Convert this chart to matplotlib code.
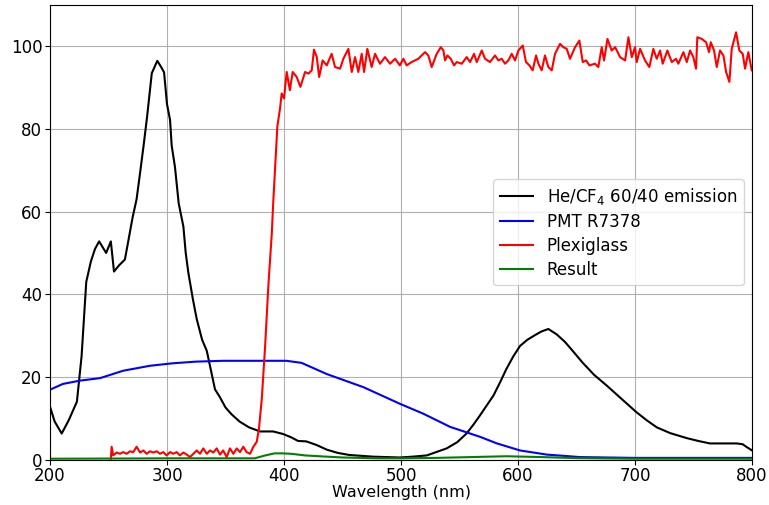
import numpy as np
from matplotlib import pyplot as plt

# --- He/CF4 60/40 emission ---
wl_em = [200, 204, 210, 216, 223, 227, 231, 235, 238.5, 242, 248, 252, 254.7, 259, 264,
         267, 270.6, 274, 277, 280, 283, 287, 291.7, 295, 297.5, 300, 302.6, 304, 306.8,
         310, 314, 316, 318.2, 322, 325.4, 330, 334, 338, 341, 345, 350, 355, 362, 370,
         379.5, 390.7, 399, 406, 412, 419, 428, 436.5, 446, 456, 476, 499, 510, 522, 530,
         539, 548, 556, 562, 567.5, 573, 579, 585, 590, 596, 601.7, 608, 615, 620, 625.9,
         633, 640, 647, 655, 665, 675.8, 688, 701, 710, 718.5, 730, 744, 754, 764, 775,
         787, 792, 795, 800]
emission = [12.8, 9.2, 6.3, 9.5, 14, 25, 43, 48, 51, 52.8, 50, 52.8, 45.5, 47, 48.4,
            53, 58.6, 63, 69.4, 76, 83, 93.5, 96.5, 95, 93.7, 86, 82.2, 76, 70.8,
            62, 56.4, 50, 45.3, 39, 34, 29, 26.3, 21, 17, 15.2, 12.6, 11, 9.2, 7.8,
            6.8, 6.8, 6.2, 5.4, 4.5, 4.4, 3.5, 2.4, 1.6, 1.1, 0.7, 0.5, 0.7, 1.0, 1.8,
            2.7, 4.2, 6.3, 8.5, 10.7, 13, 15.5, 18.9, 21.9, 25, 27.5, 29, 30.2, 31, 31.6,
            30.3, 28.5, 26.2, 23.5, 20.5, 17.9, 14.8, 11.5, 9.5, 7.8, 6.4, 5.2, 4.5, 3.9, 3.9,
            3.9, 3.7, 3.1, 2.2]

# --- PMT R7378 ---
wl_pmt = [200, 211, 225.6, 242.7, 262.6, 285.5, 305, 325, 348, 375, 402, 415, 436.5,
          468, 499, 519, 542, 567.5, 582, 601.7, 624.5, 653, 700, 800]
pmt = [16.9, 18.3, 19.1, 19.7, 21.5, 22.7, 23.3, 23.7, 23.9, 23.9, 23.9, 23.4, 20.7,
       17.5, 13.5, 11.1, 7.9, 5.5, 3.9, 2.2, 1.2, 0.6, 0.4, 0.4]

# --- Plexiglass ---
wl_plexi = [252, 252.7, 254, 257, 259.8, 262.6, 265.5, 268.4, 271.2, 274, 277, 279.8,
            282.6, 285.5, 288.3, 291.2, 294, 296.8, 299.7, 302.6, 305.4, 308.3, 311, 314,
            316.8, 319.7, 322.5, 325.4, 328.2, 331, 334, 336.8, 339.6, 342.5, 345.3, 348,
            351, 353.8, 356.7, 359.6, 362.4, 365.2, 368, 371, 373.8, 376.7, 378.6, 381,
            383.8, 386.6, 389.5, 390.9, 394.3, 396.6, 398, 400, 402.3, 405, 407.4, 410.8,
            414, 418, 420.8, 423.7, 425.6, 428, 430, 433, 436.5, 440.7, 443.6, 447.9,
            450.7, 455, 457.9, 460.7, 463.5, 466.4, 468.4, 471.2, 474.9, 477.8, 482,
            486.3, 490.6, 494.9, 499, 502, 504.8, 509, 514.8, 520.5, 523.3, 526.2, 530.5,
            534, 536.2, 537.6, 539.6, 542.5, 545.3, 547.6, 551.9, 556.1, 559, 562.4,
            564.7, 569, 571.8, 576, 580.3, 583.2, 586, 588.9, 591.7, 594.6, 597.4, 600.3,
            604, 606.8, 609.7, 612.5, 615.4, 617.4, 620.2, 623, 625.9, 628.8, 631.6,
            635.9, 638.7, 641.6, 644.4, 648.7, 652.4, 655.3, 658.1, 661, 665.8, 668.6,
            671.5, 673.5, 676.4, 680, 683, 687.2, 691.5, 694.3, 697.2, 700, 701.4, 704.3,
            708.5, 712.2, 715.6, 718.5, 721.4, 723.6, 727.6, 731.4, 735, 737, 741.3,
            744.2, 747, 749.8, 752.1, 753.2, 757, 760.7, 763.2, 764.7, 767.5, 769.8,
            772.6, 775.5, 777.8, 780.6, 782.6, 786.3, 789.1, 792, 794, 796.8, 799.7]
plexiglass = [0.2, 3.1, 1.0, 1.7, 1.4, 1.8, 1.4, 2.0, 1.8, 3.1, 1.7, 2.2,
              1.4, 2.0, 1.7, 2.0, 1.4, 1.8, 1.0, 1.8, 1.4, 1.8, 1.0, 1.7,
              1.2, 0.6, 1.4, 2.2, 1.4, 2.7, 1.4, 2.2, 1.7, 2.7, 1.2, 2.2,
              0.6, 2.7, 1.4, 2.7, 1.8, 3.1, 1.8, 1.4, 3.1, 4.3, 7.5, 14.7,
              27.2, 42, 54.5, 62.9, 80.6, 85, 88.6, 87.4, 93.8, 89.4, 93.8, 92.6,
              90.2, 93.8, 93.4, 94.2, 99.2, 97.4, 92.6, 96.6, 95.4, 98.2, 95, 94.6,
              97, 99.4, 93.8, 97.4, 93.8, 98.2, 93.8, 99.4, 95, 98.2, 95.8,
              97.4, 95.8, 97, 95.4, 97, 95.4, 96.2, 97, 98.6, 97.8, 95, 98.2,
              99.8, 99, 96.6, 97.8, 97, 95.4, 96.2, 95.8, 97.4, 96.2, 98.2,
              96.2, 99, 97, 96.2, 97.8, 96.6, 97, 95.8, 96.6, 98.2, 96.6, 99,
              100.2, 96.2, 95.4, 94.2, 97.8, 95.8, 94.2, 97.8, 95, 94.2, 98.2,
              100.6, 99.8, 99.4, 97, 99.8, 101.4, 96.2, 96.6, 95.4, 95.8, 95,
              99.8, 96.6, 101.8, 99, 99.8, 97.4, 96.6, 102.2, 97.4, 99.8, 96.2, 99.4,
              96.6, 95, 99.4, 97, 99, 95.8, 99, 96.2, 97, 95.8, 98.6,
              96.2, 99, 97.4, 94.6, 102.2, 101.8, 101, 98.6, 101, 99, 95,
              99, 97.8, 93.8, 91.4, 99.4, 103.4, 99, 98.2, 94.6, 98.6, 94.2]

# --- Result ---
wl_res = [200, 260, 300, 340, 375, 384, 392, 398, 406, 418, 430, 450, 480, 500, 530,
          560, 590, 620, 650, 700, 800]
result = [0.2, 0.25, 0.3, 0.3, 0.3, 1.0, 1.5, 1.5, 1.4, 1.0, 0.8, 0.5, 0.3, 0.3, 0.4,
          0.6, 0.8, 0.6, 0.35, 0.2, 0.2]

fig = plt.figure(figsize=(7.69, 5.05), dpi=100)
ax = fig.add_subplot(1, 1, 1)

ax.plot(wl_em, emission, color='black', lw=1.5, label=r'He/CF$_4$ 60/40 emission')
ax.plot(wl_pmt, pmt, color='blue', lw=1.5, label='PMT R7378')
ax.plot(wl_plexi, plexiglass, color='red', lw=1.5, label='Plexiglass')
ax.plot(wl_res, result, color='green', lw=1.5, label='Result')

ax.set_xlim(200, 800)
ax.set_ylim(0, 110)
ax.set_xticks(np.arange(200, 801, 100))
ax.set_yticks(np.arange(0, 101, 20))
ax.tick_params(labelsize=12, pad=2)
ax.set_xlabel('Wavelength (nm)', fontsize=11.5, labelpad=0)
ax.grid(True)
ax.legend(loc='center right', fontsize=12, labelspacing=0.35)

plt.subplots_adjust(left=0.065, right=0.978, bottom=0.09, top=0.99)
plt.savefig('out.png', dpi=100)
